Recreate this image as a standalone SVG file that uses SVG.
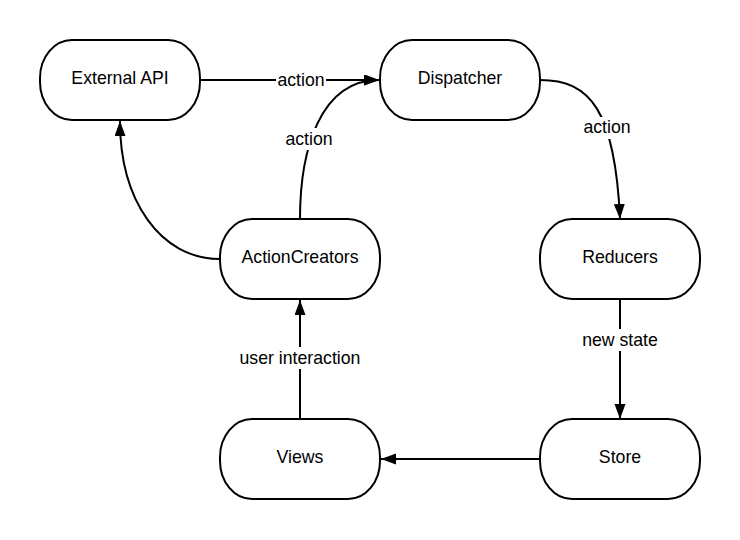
<svg xmlns="http://www.w3.org/2000/svg" width="740" height="540" viewBox="0 0 740 540">
<style>
.node rect{fill:#fff;stroke:#000;stroke-width:2}
.node text{font-family:"Liberation Sans",Arial,sans-serif;font-size:17.7px;fill:#000;text-anchor:middle}
.edge{fill:none;stroke:#000;stroke-width:2}
.lbl{font-family:"Liberation Sans",Arial,sans-serif;font-size:17.7px;fill:#000;text-anchor:middle}
.lblbg{fill:#fff}
</style>
<defs>
<marker id="arr" markerUnits="userSpaceOnUse" markerWidth="16" markerHeight="12" refX="15" refY="5.5" orient="auto">
<path d="M0,0 L15,5.5 L0,11 z" fill="#000"/>
</marker>
</defs>
<rect width="740" height="540" fill="#fff"/>
<g id="connectors">
<path class="edge" d="M200,80 L379,80" marker-end="url(#arr)"/>
<path class="edge" d="M300,219 C300,150 320,80 379,80" marker-end="url(#arr)"/>
<path class="edge" d="M220,259 C160,259 120,200 120,121" marker-end="url(#arr)"/>
<path class="edge" d="M540,80 C590,80 615,110 620,219" marker-end="url(#arr)"/>
<path class="edge" d="M620,299 L620,419" marker-end="url(#arr)"/>
<path class="edge" d="M540,459 L381,459" marker-end="url(#arr)"/>
<path class="edge" d="M300,419 L300,300" marker-end="url(#arr)"/>
<rect class="lblbg" x="276" y="70" width="50" height="20"/>
<text class="lbl" x="301" y="86">action</text>
<rect class="lblbg" x="283" y="128" width="52" height="22"/>
<text class="lbl" x="309" y="145">action</text>
<rect class="lblbg" x="582" y="117" width="52" height="22"/>
<text class="lbl" x="607" y="133">action</text>
<rect class="lblbg" x="580" y="329" width="80" height="22"/>
<text class="lbl" x="620" y="346">new state</text>
<rect class="lblbg" x="238" y="347" width="124" height="22"/>
<text class="lbl" x="300" y="364">user interaction</text>
</g>
<g id="external-api" class="node"><rect x="40" y="40" width="160" height="80" rx="32" ry="38"/><text x="120" y="84">External API</text></g>
<g id="dispatcher" class="node"><rect x="380" y="40" width="160" height="80" rx="32" ry="38"/><text x="460" y="84">Dispatcher</text></g>
<g id="actioncreators" class="node"><rect x="220" y="219" width="160" height="80" rx="32" ry="38"/><text x="300" y="263">ActionCreators</text></g>
<g id="reducers" class="node"><rect x="540" y="219" width="160" height="80" rx="32" ry="38"/><text x="620" y="263">Reducers</text></g>
<g id="views" class="node"><rect x="220" y="419" width="160" height="80" rx="32" ry="38"/><text x="300" y="463">Views</text></g>
<g id="store" class="node"><rect x="540" y="419" width="160" height="80" rx="32" ry="38"/><text x="620" y="463">Store</text></g>
</svg>
